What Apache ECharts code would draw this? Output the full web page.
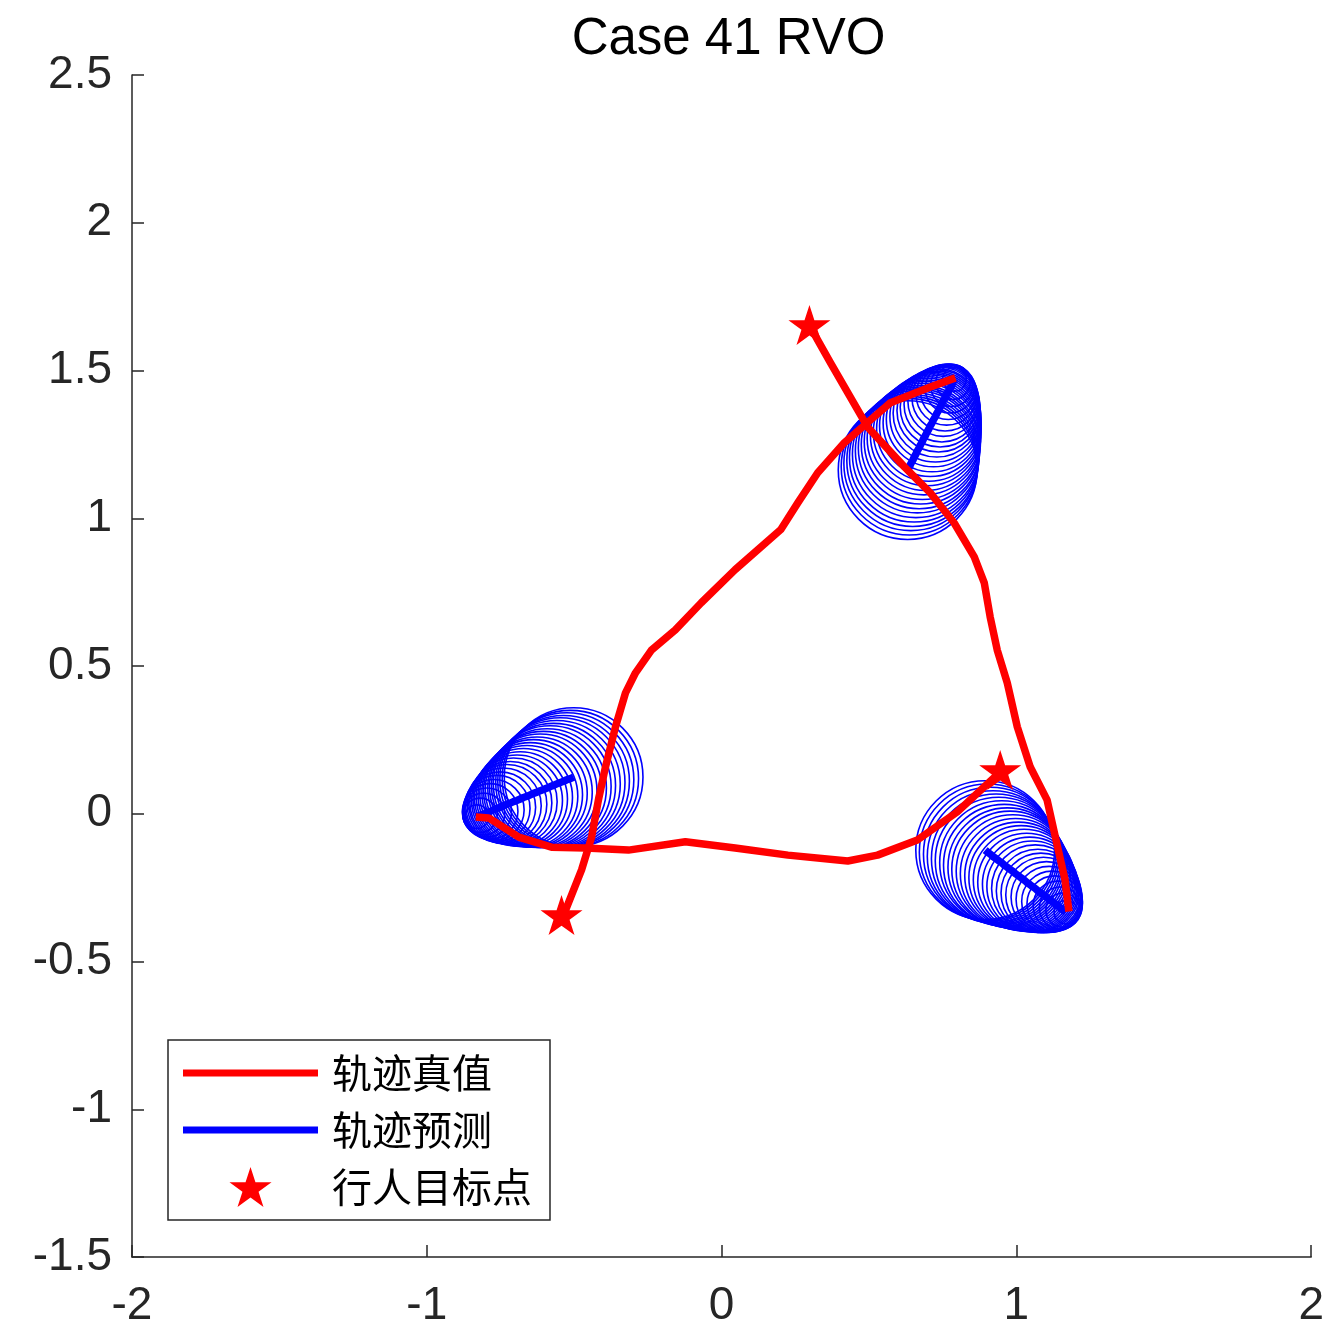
<!DOCTYPE html>
<html>
<head>
<meta charset="utf-8">
<title>Case 41 RVO</title>
<script src="https://cdn.jsdelivr.net/npm/echarts@6/dist/echarts.min.js"></script>
<style>
  html, body { margin: 0; padding: 0; background: #fff; }
  #chart { width: 1327px; height: 1335px; }
</style>
</head>
<body>
<div id="chart"></div>
<script>
// Axis ranges and tick spacing
const xRange = [-2, 2];
const yRange = [-1.5, 2.5];
const xStep = 1;
const yStep = 0.5;

// Ground-truth trajectories of the three pedestrians
const truth1 = [[-0.834,-0.011],[-0.790,-0.014],[-0.688,-0.079],[-0.577,-0.113],[-0.462,-0.116],
  [-0.316,-0.123],[-0.123,-0.095],[0.046,-0.116],[0.225,-0.140],[0.428,-0.160],[0.529,-0.140],
  [0.664,-0.089],[0.799,0.006],[0.945,0.141]];
const truth2 = [[0.793,1.475],[0.708,1.444],[0.573,1.391],[0.495,1.324],[0.417,1.256],[0.326,1.154],
  [0.259,1.053],[0.201,0.962],[0.046,0.826],[-0.069,0.714],[-0.157,0.622],[-0.238,0.554],
  [-0.292,0.477],[-0.326,0.409],[-0.360,0.294],[-0.394,0.158],[-0.418,0.046],[-0.441,-0.079],
  [-0.475,-0.190],[-0.536,-0.343]];
const truth3 = [[1.178,-0.331],[1.165,-0.224],[1.138,-0.105],[1.104,0.047],[1.047,0.158],[1.003,0.294],
  [0.969,0.443],[0.935,0.554],[0.911,0.666],[0.891,0.781],[0.857,0.869],[0.789,0.984],
  [0.708,1.086],[0.620,1.174],[0.495,1.309],[0.370,1.525],[0.326,1.603],[0.298,1.654]];

// Pedestrian goal points
const goals = [[0.945,0.148],[-0.543,-0.343],[0.298,1.654]];

// Predicted positions per step for each pedestrian
const pred1 = [[-0.830,-0.010],[-0.819,-0.005],[-0.807,-0.001],[-0.796,0.004],[-0.785,0.008],
  [-0.773,0.013],[-0.762,0.018],[-0.751,0.022],[-0.740,0.027],[-0.728,0.032],[-0.717,0.036],
  [-0.706,0.041],[-0.694,0.045],[-0.683,0.050],[-0.672,0.055],[-0.660,0.059],[-0.649,0.064],
  [-0.638,0.069],[-0.626,0.073],[-0.615,0.078],[-0.604,0.082],[-0.592,0.087],[-0.581,0.092],
  [-0.570,0.096],[-0.559,0.101],[-0.547,0.106],[-0.536,0.110],[-0.525,0.115],[-0.513,0.119],
  [-0.502,0.124]];
const pred2 = [[0.790,1.470],[0.785,1.460],[0.780,1.449],[0.774,1.439],[0.769,1.428],[0.763,1.418],
  [0.758,1.407],[0.752,1.397],[0.747,1.386],[0.741,1.376],[0.736,1.365],[0.730,1.355],
  [0.725,1.344],[0.719,1.334],[0.714,1.323],[0.708,1.313],[0.703,1.302],[0.697,1.292],
  [0.692,1.281],[0.686,1.271],[0.681,1.260],[0.675,1.249],[0.670,1.238],[0.664,1.228],
  [0.659,1.217],[0.653,1.206],[0.648,1.195],[0.642,1.185],[0.637,1.174],[0.631,1.163]];
const pred3 = [[1.168,-0.333],[1.158,-0.326],[1.149,-0.319],[1.140,-0.311],[1.130,-0.304],
  [1.121,-0.297],[1.111,-0.290],[1.102,-0.282],[1.092,-0.275],[1.083,-0.268],[1.073,-0.261],
  [1.064,-0.253],[1.054,-0.246],[1.045,-0.239],[1.035,-0.232],[1.026,-0.224],[1.016,-0.217],
  [1.007,-0.210],[0.997,-0.203],[0.988,-0.195],[0.978,-0.188],[0.969,-0.181],[0.959,-0.174],
  [0.950,-0.166],[0.940,-0.159],[0.931,-0.152],[0.921,-0.145],[0.912,-0.137],[0.902,-0.130],
  [0.894,-0.123]];

// Uncertainty radius at each prediction step
const sigma = [0.040,0.058,0.071,0.083,0.094,0.103,0.112,0.120,0.128,0.135,0.141,0.148,0.154,
  0.160,0.166,0.172,0.177,0.182,0.187,0.192,0.197,0.201,0.206,0.210,0.215,0.219,0.223,0.227,
  0.231,0.235];

const legendNames = ['轨迹真值', '轨迹预测', '行人目标点'];

const RED = '#FF0000';
const BLUE = '#0000FF';
const AXIS = '#262626';
const STAR = 'path://M50,0 L61.2,34.5 L97.6,34.5 L68.2,55.9 L79.4,90.5 L50,69.1 L20.6,90.5 L31.8,55.9 L2.4,34.5 L38.8,34.5 Z';

// Circles of growing radius around each predicted step
function circleData(pred) {
  return pred.map((p, i) => [p[0], p[1], sigma[i]]);
}

function renderCircle(params, api) {
  const c = api.coord([api.value(0), api.value(1)]);
  const s = api.size([api.value(2), api.value(2)]);
  return {
    type: 'circle',
    shape: { cx: c[0], cy: c[1], r: (s[0] + s[1]) / 2 },
    style: { fill: 'none', stroke: BLUE, lineWidth: 1.6 },
    silent: true
  };
}

function circleSeries(pred) {
  return {
    name: 'circles',
    type: 'custom',
    renderItem: renderCircle,
    data: circleData(pred),
    encode: { x: 0, y: 1 },
    clip: true,
    z: 1,
    animation: false
  };
}

function lineSeries(name, data, color, z) {
  return {
    name: name,
    type: 'line',
    data: data,
    showSymbol: false,
    symbol: 'none',
    lineStyle: { color: color, width: 7.5, join: 'round', cap: 'butt' },
    itemStyle: { color: color },
    z: z,
    animation: false
  };
}

const chart = echarts.init(document.getElementById('chart'), null, { renderer: 'canvas' });

chart.setOption({
  backgroundColor: '#fff',
  animation: false,
  title: {
    text: 'Case 41 RVO',
    left: 723.5,
    top: 9,
    textAlign: 'center',
    textStyle: { fontSize: 51, fontWeight: 'normal', color: '#000', fontFamily: 'Liberation Sans, Arial, sans-serif' }
  },
  grid: { left: 132, right: 12, top: 75, bottom: 78, containLabel: false },
  xAxis: {
    type: 'value',
    min: xRange[0], max: xRange[1], interval: xStep,
    axisLine: { show: true, onZero: false, lineStyle: { color: AXIS, width: 1.5 } },
    axisTick: { show: true, inside: true, length: 12, lineStyle: { color: AXIS, width: 1.5 } },
    axisLabel: { fontSize: 46, color: AXIS, margin: 26, fontFamily: 'Liberation Sans, Arial, sans-serif' },
    splitLine: { show: false }
  },
  yAxis: {
    type: 'value',
    min: yRange[0], max: yRange[1], interval: yStep,
    axisLine: { show: true, onZero: false, lineStyle: { color: AXIS, width: 1.5 } },
    axisTick: { show: true, inside: true, length: 12, lineStyle: { color: AXIS, width: 1.5 } },
    axisLabel: { fontSize: 46, color: AXIS, margin: 20, fontFamily: 'Liberation Sans, Arial, sans-serif' },
    splitLine: { show: false }
  },
  legend: {
    orient: 'vertical',
    left: 168,
    top: 1040,
    padding: [13, 18, 13, 15],
    itemWidth: 135,
    itemHeight: 40,
    itemGap: 17,
    borderColor: AXIS,
    borderWidth: 1.5,
    borderRadius: 0,
    backgroundColor: '#fff',
    selectedMode: false,
    textStyle: { fontSize: 40, color: '#000', fontFamily: 'Noto Sans CJK SC', padding: [0, 0, 0, 9] },
    data: [
      { name: legendNames[0], icon: 'path://M0,0 L135,0 L135,7 L0,7 Z', itemStyle: { color: RED, opacity: 1 } },
      { name: legendNames[1], icon: 'path://M0,0 L135,0 L135,7 L0,7 Z', itemStyle: { color: BLUE, opacity: 1 } },
      { name: legendNames[2], icon: STAR, itemStyle: { color: RED, opacity: 1 } }
    ]
  },
  series: [
    circleSeries(pred1),
    circleSeries(pred2),
    circleSeries(pred3),
    lineSeries(legendNames[1], pred1, BLUE, 2),
    lineSeries(legendNames[1], pred2, BLUE, 2),
    lineSeries(legendNames[1], pred3, BLUE, 2),
    lineSeries(legendNames[0], truth1, RED, 3),
    lineSeries(legendNames[0], truth2, RED, 3),
    lineSeries(legendNames[0], truth3, RED, 3),
    {
      name: legendNames[2],
      type: 'scatter',
      data: goals,
      symbol: STAR,
      symbolSize: [42, 40],
      itemStyle: { color: RED, opacity: 1 },
      z: 4,
      animation: false
    }
  ]
});
</script>
</body>
</html>
